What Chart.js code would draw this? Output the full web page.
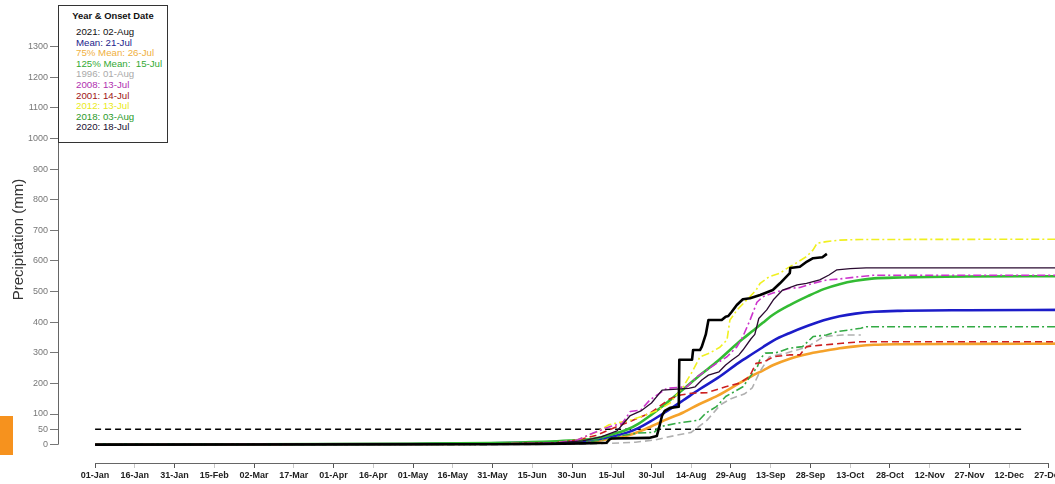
<!DOCTYPE html>
<html>
<head>
<meta charset="utf-8">
<script src="https://cdn.jsdelivr.net/npm/chart.js@4"></script>
<style>
html,body{margin:0;padding:0;background:#fff;overflow:hidden;width:1055px;height:484px;}
#wrap{position:absolute;left:0;top:0;width:1100px;height:484px;}
#tab{position:absolute;left:0;top:416px;width:13px;height:39px;background:#f6921e;}
#legend{position:absolute;left:58px;top:5px;width:110px;height:138px;border:1px solid #333;background:#fff;box-sizing:border-box;font-family:"Liberation Sans",Arial,sans-serif;}
#legend .t{position:absolute;left:0;width:100%;text-align:center;font-weight:bold;font-size:9.4px;line-height:11px;color:#111;white-space:nowrap;}
#legend .e{position:absolute;left:17px;font-size:9.7px;line-height:11px;white-space:pre;}
</style>
</head>
<body>
<div id="wrap"><canvas id="c" width="1100" height="484"></canvas></div>
<div id="tab"></div>
<div id="legend"></div>
<script>
// ---- categories / ticks ----
const tickDays = [1,16,31,46,61,76,91,106,121,136,151,166,181,196,211,226,241,256,271,286,301,316,331,346,361];
const tickLabels = ["01-Jan","16-Jan","31-Jan","15-Feb","02-Mar","17-Mar","01-Apr","16-Apr","01-May","16-May","31-May","15-Jun","30-Jun","15-Jul","30-Jul","14-Aug","29-Aug","13-Sep","28-Sep","13-Oct","28-Oct","12-Nov","27-Nov","12-Dec","27-Dec"];
const yTickVals = [0,50,100,200,300,400,500,600,700,800,900,1000,1100,1200,1300];
const yAxisTop = 1400;

// ---- legend ----
const legendTitle = "Year & Onset Date";
const legendLabels = ["2021: 02-Aug","Mean: 21-Jul","75% Mean: 26-Jul","125% Mean:  15-Jul","1996: 01-Aug","2008: 13-Jul","2001: 14-Jul","2012: 13-Jul","2018: 03-Aug","2020: 18-Jul"];
const legendColors = ["#111111","#22228c","#f0b040","#33aa33","#aaaaaa","#b030b0","#a01515","#eaea20","#2a9a2a","#1a1030"];

// ---- series (day of year, cumulative mm) ----
const days2021 = [1,150,170,185,194,195.3,196,210,213,214,215,216,218,221.3,221.5,226.3,226.7,229.3,230,231.5,232.5,237.5,239,240,241.3,243.2,245.5,248.2,252,256.8,259.5,263.2,263.4,267,269.7,272,275.5,277.2];
const vals2021 = [0,1,2,4,6,18,20,22,28,60,95,110,120,124,277,277,309,309,320,360,407,407,418,420,434,456,475,478,489,505,527,560,577,581,598,609,612,623];

const meanDays = [1,60,120,150,170,180,189,196,202,206,211,216,223,229,236,244,249,253,257,263,270,276,282,288,295,305,330,366];
const meanVals = [0,1,2,4,7,10,15,26,40,54,78,105,145,180,218,268,296,318,340,364,388,406,419,428,434,437,439,440];
const mean75Vals = [0,0.8,1.5,3,5,8,11,20,30,41,60,80,105,132,160,200,225,242,260,280,296,306,315,321,326,328,329,330];
const mean125Vals = [0,1,3,5,9,13,19,33,50,68,98,131,181,225,273,335,370,398,425,455,485,508,524,535,543,546,549,550];

const days1996 = [1,150,185,195,205,212,220,226,232,237,241,246,249,252,255.5,262,270,276,283,290];
const vals1996 = [0,0,2,4,8,15,30,40,80,130,150,165,185,240,287,299,320,353,358,358];

const days2008 = [1,150,175,183,189,195,200,203,207,210.4,216.8,224.4,228.2,232,235.7,239.5,243.3,245.5,248.2,250.8,253,256.8,263.3,267,272,277.2,282,289.7,294.6,366];
const vals2008 = [0,2,6,15,38,58,70,108,113,146,184,189,222,244,266,287,320,353,407,465,483,495,511,513,527,538,541,549,553,553];

const days2001 = [1,150,175,183,190,195,204,210.5,214,218,222,226,232,239,244,248,250.5,253,257,263,267,269.5,275,283,290,366];
const vals2001 = [0,2,6,15,30,48,80,103,125,150,162,168,170,189,200,222,266,268,287,293,293,320,325,331,336,336];

const days2012 = [1,150,175,183,190,195,203,210,214,218,223,226.5,229.3,233,236.8,239.5,240.6,243.3,247,250.5,252,255.5,259.5,262,266,269.5,272,273.5,277,282,290,366];
const vals2012 = [0,2,6,15,40,65,80,100,115,136,189,240,287,299,318,342,407,440,473,505,527,549,560,575,595,614,636,658,663,668,670,671];

const days2018 = [1,150,180,188,195,200,206,212,214,220.5,229,231.5,235.5,239,245.5,251,252,254,258,263,268,272,277,281,286,290,292,366];
const vals2018 = [0,1,4,10,20,30,38,40,58,70,80,103,124,157,189,255,280,299,300,315,320,353,358,369,375,380,385,385];

const days2020 = [1,150,175,185,192,198,203,207,211,215,222,225,227.5,230,232.5,236.5,239,241.5,244,245.5,248.5,250,251.5,254.5,257,260.5,266,269.5,274.5,278,281,286,292,366];
const vals2020 = [0,2,6,12,25,45,95,110,136,178,182,184,189,211,227,238,260,277,293,309,345,360,412,440,473,505,522,527,538,554,571,575,577,577];

const thresholdDays = [1,351];
const thresholdVals = [50,50];

// ---- build legend ----
(function(){
  const lg = document.getElementById('legend');
  const t = document.createElement('div');
  t.className='t'; t.textContent = legendTitle; t.style.top = (15-6-5.5)+'px';
  lg.appendChild(t);
  legendLabels.forEach((s,i)=>{
    const d = document.createElement('div');
    d.className='e'; d.textContent = s; d.style.color = legendColors[i];
    d.style.top = (31.7 + i*10.55 - 6 - 5.5)+'px';
    lg.appendChild(d);
  });
})();

function mk(label, days, vals, color, width, dash, smooth){
  return {
    label, data: days.map((d,i)=>({x:d, y:vals[i]})),
    borderColor: color, backgroundColor: color, borderWidth: width,
    borderDash: dash || [], pointRadius: 0, fill: false,
    tension: 0, cubicInterpolationMode: smooth ? 'monotone' : 'default',
    borderCapStyle: 'butt', borderJoinStyle: 'round'
  };
}

const datasets = [
  mk('2021', days2021, vals2021, '#000000', 2.6),
  mk('2020', days2020, vals2020, '#2a0a30', 1.3),
  mk('2008', days2008, vals2008, '#cc33cc', 1.6, [8,3,2,3]),
  mk('2012', days2012, vals2012, '#f0f020', 1.6, [8,3,2,3]),
  mk('2001', days2001, vals2001, '#cc2020', 1.6, [7,4]),
  mk('2018', days2018, vals2018, '#33aa44', 1.6, [8,3,2,3]),
  mk('1996', days1996, vals1996, '#b0b0b0', 1.6, [7,4]),
  mk('125% Mean', meanDays, mean125Vals, '#33bb33', 2.6, null, true),
  mk('Mean', meanDays, meanVals, '#1c1cc8', 2.6, null, true),
  mk('75% Mean', meanDays, mean75Vals, '#f5a22a', 2.6, null, true),
  mk('threshold', thresholdDays, thresholdVals, '#000000', 1.6, [6,4])
];

const axisLines = {
  id: 'axisLines',
  afterDraw(chart){
    const {ctx, scales:{x, y}} = chart;
    ctx.save();
    ctx.strokeStyle = '#666'; ctx.lineWidth = 1;
    const xl = Math.round(x.left) + 0.5;
    ctx.beginPath(); ctx.moveTo(xl, y.getPixelForValue(yAxisTop)); ctx.lineTo(xl, y.getPixelForValue(0)); ctx.stroke();
    const yb = Math.round(y.bottom) + 0.5;
    ctx.beginPath(); ctx.moveTo(x.getPixelForValue(tickDays[0]), yb); ctx.lineTo(x.getPixelForValue(tickDays[tickDays.length-1]), yb); ctx.stroke();
    ctx.restore();
  }
};

new Chart(document.getElementById('c'), {
  type: 'line',
  data: { datasets },
  options: {
    responsive: false, devicePixelRatio: 1, animation: false,
    layout: { padding: { top: 16, right: 14, left: 0, bottom: 0 } },
    plugins: { legend: { display: false }, tooltip: { enabled: false } },
    scales: {
      x: {
        type: 'linear', min: -13, max: 375,
        afterBuildTicks: s => { s.ticks = tickDays.map(v => ({ value: v })); },
        afterFit: s => { s.height = 21; },
        grid: { drawOnChartArea: false, drawTicks: true, tickLength: 5,
                color: c => (c.index % 2 ? '#c8c8c8' : '#555') },
        border: { display: false },
        ticks: { autoSkip: false, maxRotation: 0, minRotation: 0, padding: 2,
                 color: '#222', font: { family: 'Liberation Sans', size: 9, weight: 'bold' },
                 callback: (v, i) => tickLabels[i] }
      },
      y: {
        type: 'linear', min: -60, max: yAxisTop,
        afterBuildTicks: s => { s.ticks = yTickVals.map(v => ({ value: v })); },
        afterFit: s => { s.width = 58; },
        grid: { drawOnChartArea: false, drawTicks: true, tickLength: 8, color: '#777' },
        border: { display: false },
        ticks: { padding: 2, color: '#777', font: { family: 'Liberation Sans', size: 9 },
                 callback: v => String(v) },
        title: { display: true, text: 'Precipitation (mm)', color: '#333',
                 font: { family: 'Liberation Sans', size: 15 }, padding: { top: 10, bottom: 0 } }
      }
    }
  },
  plugins: [axisLines]
});
</script>
</body>
</html>
